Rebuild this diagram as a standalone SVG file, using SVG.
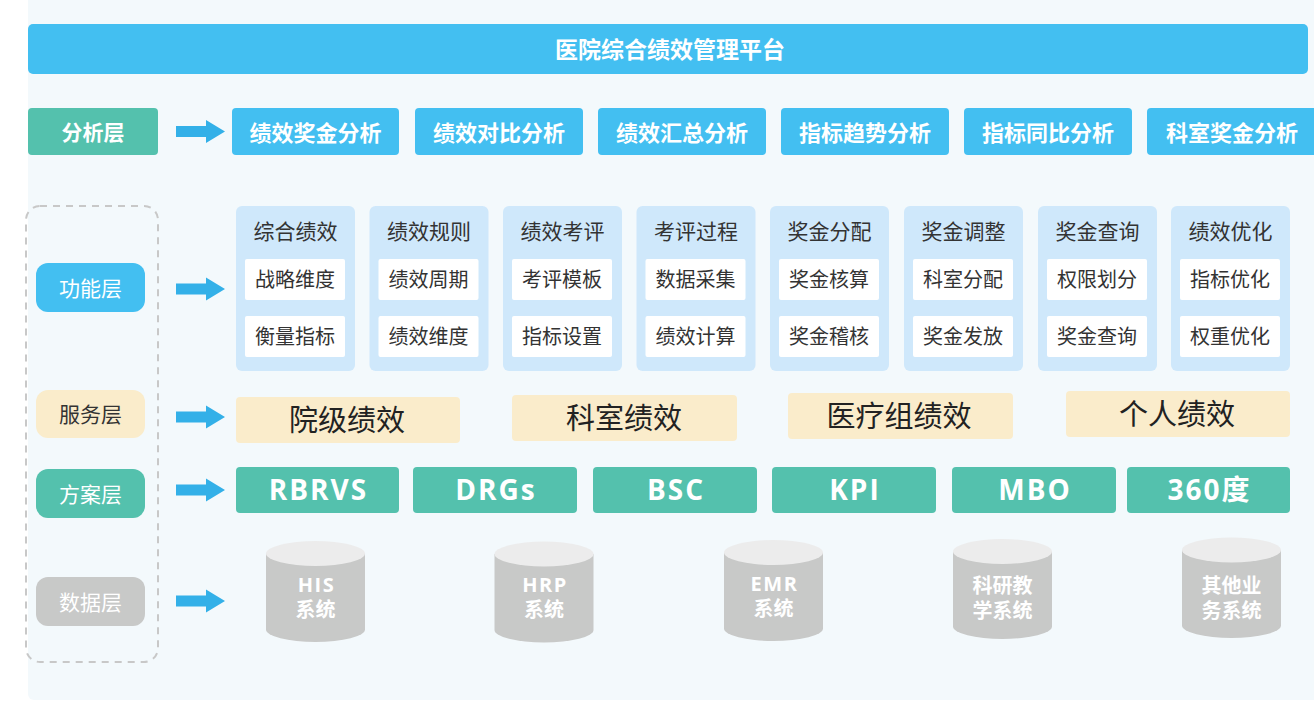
<svg xmlns="http://www.w3.org/2000/svg" width="1314" height="701" viewBox="0 0 1314 701">
<defs>
<style>
text{font-family:"Open Sans","Noto Sans CJK SC","Noto Sans",sans-serif;text-anchor:middle;dominant-baseline:central}
.blue{fill:#43BFF1}
.teal{fill:#54C1AD}
.cream{fill:#FAECCB}
.gray{fill:#C8C9C8}
.col{fill:#CFE8FB}
.cell{fill:#FFFFFF}
.w{fill:#FFFFFF}
.wb{fill:#FFFFFF;font-weight:bold}
.dk{fill:#333333}
.arrow{fill:#33B0E8}
.cyltop{fill:#ECECEC}
.an{font-size:22px}
.lay{font-size:21px}
.hd{font-size:21px}
.in{font-size:20px}
.sv{font-size:29px;fill:#222}
.sc{font-size:28px;letter-spacing:2px}
.cy{font-size:20px}
.cyl{font-size:20px;letter-spacing:1.5px}
</style>
<path id="arr" d="M0,-5.5 H30 V-11.5 L49,0 L30,11.5 V5.5 H0 Z"/>
</defs>
<rect x="0" y="0" width="1314" height="701" fill="#FFFFFF"/>
<rect x="28" y="-10" width="1300" height="710" rx="6" fill="#F3F9FC"/>

<g id="title">
<rect x="28" y="24" width="1280" height="50" rx="5" class="blue"/>
<text x="670" y="49" class="wb" font-size="23">医院综合绩效管理平台</text>
</g>

<g id="frame">
<rect x="26" y="206" width="132" height="456" rx="14" fill="none" stroke="#C8C8C8" stroke-width="2" stroke-dasharray="7,6"/>
</g>

<g id="layer-analysis">
<rect x="28" y="108" width="130" height="47" rx="4" class="teal"/>
<text x="93" y="131.5" class="wb lay">分析层</text>
</g>
<g id="layer-function">
<rect x="36" y="263" width="109" height="49" rx="12" class="blue"/>
<text x="90.5" y="287.5" class="w lay">功能层</text>
</g>
<g id="layer-service">
<rect x="36" y="390" width="109" height="48" rx="12" class="cream"/>
<text x="90.5" y="414" class="dk lay">服务层</text>
</g>
<g id="layer-scheme">
<rect x="36" y="469" width="109" height="49" rx="12" class="teal"/>
<text x="90.5" y="493.5" class="w lay">方案层</text>
</g>
<g id="layer-data">
<rect x="36" y="577" width="109" height="49" rx="12" class="gray"/>
<text x="90.5" y="601.5" class="w lay">数据层</text>
</g>

<g id="connectors" class="arrow">
<use href="#arr" x="176" y="131.5"/>
<use href="#arr" x="176" y="289"/>
<use href="#arr" x="176" y="417"/>
<use href="#arr" x="176" y="490"/>
<use href="#arr" x="176" y="601"/>
</g>

<g id="analysis-items">
<g id="a1"><rect x="232" y="108" width="167" height="47" rx="4" class="blue"/><text x="315.5" y="131.5" class="wb an">绩效奖金分析</text></g>
<g id="a2"><rect x="415" y="108" width="168" height="47" rx="4" class="blue"/><text x="499" y="131.5" class="wb an">绩效对比分析</text></g>
<g id="a3"><rect x="598" y="108" width="168" height="47" rx="4" class="blue"/><text x="682" y="131.5" class="wb an">绩效汇总分析</text></g>
<g id="a4"><rect x="781" y="108" width="168" height="47" rx="4" class="blue"/><text x="865" y="131.5" class="wb an">指标趋势分析</text></g>
<g id="a5"><rect x="964" y="108" width="168" height="47" rx="4" class="blue"/><text x="1048" y="131.5" class="wb an">指标同比分析</text></g>
<g id="a6"><rect x="1147" y="108" width="175" height="47" rx="4" class="blue"/><text x="1232" y="131.5" class="wb an">科室奖金分析</text></g>
</g>

<g id="function-items">
<g id="f1"><rect x="236" y="206" width="119" height="165" rx="6" class="col"/><text x="295.5" y="231" class="dk hd">综合绩效</text>
<rect x="245" y="259" width="100" height="41" rx="2" class="cell"/><text x="295" y="279.5" class="dk in">战略维度</text>
<rect x="245" y="316" width="100" height="41" rx="2" class="cell"/><text x="295" y="336.5" class="dk in">衡量指标</text></g>
<g id="f2"><rect x="369.5" y="206" width="119" height="165" rx="6" class="col"/><text x="429" y="231" class="dk hd">绩效规则</text>
<rect x="378.5" y="259" width="100" height="41" rx="2" class="cell"/><text x="428.5" y="279.5" class="dk in">绩效周期</text>
<rect x="378.5" y="316" width="100" height="41" rx="2" class="cell"/><text x="428.5" y="336.5" class="dk in">绩效维度</text></g>
<g id="f3"><rect x="503" y="206" width="119" height="165" rx="6" class="col"/><text x="562.5" y="231" class="dk hd">绩效考评</text>
<rect x="512" y="259" width="100" height="41" rx="2" class="cell"/><text x="562" y="279.5" class="dk in">考评模板</text>
<rect x="512" y="316" width="100" height="41" rx="2" class="cell"/><text x="562" y="336.5" class="dk in">指标设置</text></g>
<g id="f4"><rect x="636.5" y="206" width="119" height="165" rx="6" class="col"/><text x="696" y="231" class="dk hd">考评过程</text>
<rect x="645.5" y="259" width="100" height="41" rx="2" class="cell"/><text x="695.5" y="279.5" class="dk in">数据采集</text>
<rect x="645.5" y="316" width="100" height="41" rx="2" class="cell"/><text x="695.5" y="336.5" class="dk in">绩效计算</text></g>
<g id="f5"><rect x="770" y="206" width="119" height="165" rx="6" class="col"/><text x="829.5" y="231" class="dk hd">奖金分配</text>
<rect x="779" y="259" width="100" height="41" rx="2" class="cell"/><text x="829" y="279.5" class="dk in">奖金核算</text>
<rect x="779" y="316" width="100" height="41" rx="2" class="cell"/><text x="829" y="336.5" class="dk in">奖金稽核</text></g>
<g id="f6"><rect x="904" y="206" width="119" height="165" rx="6" class="col"/><text x="963.5" y="231" class="dk hd">奖金调整</text>
<rect x="913" y="259" width="100" height="41" rx="2" class="cell"/><text x="963" y="279.5" class="dk in">科室分配</text>
<rect x="913" y="316" width="100" height="41" rx="2" class="cell"/><text x="963" y="336.5" class="dk in">奖金发放</text></g>
<g id="f7"><rect x="1038" y="206" width="119" height="165" rx="6" class="col"/><text x="1097.5" y="231" class="dk hd">奖金查询</text>
<rect x="1047" y="259" width="100" height="41" rx="2" class="cell"/><text x="1097" y="279.5" class="dk in">权限划分</text>
<rect x="1047" y="316" width="100" height="41" rx="2" class="cell"/><text x="1097" y="336.5" class="dk in">奖金查询</text></g>
<g id="f8"><rect x="1171" y="206" width="119" height="165" rx="6" class="col"/><text x="1230.5" y="231" class="dk hd">绩效优化</text>
<rect x="1180" y="259" width="100" height="41" rx="2" class="cell"/><text x="1230" y="279.5" class="dk in">指标优化</text>
<rect x="1180" y="316" width="100" height="41" rx="2" class="cell"/><text x="1230" y="336.5" class="dk in">权重优化</text></g>
</g>

<g id="service-items">
<g id="s1"><rect x="236" y="397" width="224" height="46" rx="4" class="cream"/><text x="347" y="419.5" class="sv">院级绩效</text></g>
<g id="s2"><rect x="512" y="395" width="225" height="46" rx="4" class="cream"/><text x="624" y="417.5" class="sv">科室绩效</text></g>
<g id="s3"><rect x="788" y="393" width="225" height="46" rx="4" class="cream"/><text x="899" y="415.5" class="sv">医疗组绩效</text></g>
<g id="s4"><rect x="1066" y="391" width="224" height="46" rx="4" class="cream"/><text x="1177" y="413.5" class="sv">个人绩效</text></g>
</g>

<g id="scheme-items">
<g id="p1"><rect x="236" y="467" width="163" height="46" rx="4" class="teal"/><text x="318.5" y="489" class="wb sc">RBRVS</text></g>
<g id="p2"><rect x="413" y="467" width="164" height="46" rx="4" class="teal"/><text x="496" y="489" class="wb sc">DRGs</text></g>
<g id="p3"><rect x="593" y="467" width="164" height="46" rx="4" class="teal"/><text x="676" y="489" class="wb sc">BSC</text></g>
<g id="p4"><rect x="772" y="467" width="164" height="46" rx="4" class="teal"/><text x="855" y="489" class="wb sc">KPI</text></g>
<g id="p5"><rect x="952" y="467" width="164" height="46" rx="4" class="teal"/><text x="1035" y="489" class="wb sc">MBO</text></g>
<g id="p6"><rect x="1127" y="467" width="163" height="46" rx="4" class="teal"/><text x="1209.5" y="489" class="wb sc">360度</text></g>
</g>

<g id="data-items">
<g id="d1"><path d="M266,553.5 V629.5 A49.5,12.5 0 0 0 365,629.5 V553.5 Z" class="gray"/><ellipse cx="315.5" cy="553.5" rx="49.5" ry="12.5" class="cyltop"/>
<text x="316.5" y="584" class="wb cyl">HIS</text><text x="315.5" y="609" class="wb cy">系统</text></g>
<g id="d2"><path d="M494.5,554 V630 A49.5,12.5 0 0 0 593.5,630 V554 Z" class="gray"/><ellipse cx="544" cy="554" rx="49.5" ry="12.5" class="cyltop"/>
<text x="545" y="584.5" class="wb cyl">HRP</text><text x="544" y="609.5" class="wb cy">系统</text></g>
<g id="d3"><path d="M724,552.5 V628.5 A49.5,12.5 0 0 0 823,628.5 V552.5 Z" class="gray"/><ellipse cx="773.5" cy="552.5" rx="49.5" ry="12.5" class="cyltop"/>
<text x="774.5" y="583" class="wb cyl">EMR</text><text x="773.5" y="608" class="wb cy">系统</text></g>
<g id="d4"><path d="M953,551.5 V626.5 A49.5,12.5 0 0 0 1052,626.5 V551.5 Z" class="gray"/><ellipse cx="1002.5" cy="551.5" rx="49.5" ry="12.5" class="cyltop"/>
<text x="1002.5" y="585" class="wb cy">科研教</text><text x="1002.5" y="610" class="wb cy">学系统</text></g>
<g id="d5"><path d="M1182,550 V625.5 A49.5,12.5 0 0 0 1281,625.5 V550 Z" class="gray"/><ellipse cx="1231.5" cy="550" rx="49.5" ry="12.5" class="cyltop"/>
<text x="1231.5" y="585" class="wb cy">其他业</text><text x="1231.5" y="610" class="wb cy">务系统</text></g>
</g>
</svg>
